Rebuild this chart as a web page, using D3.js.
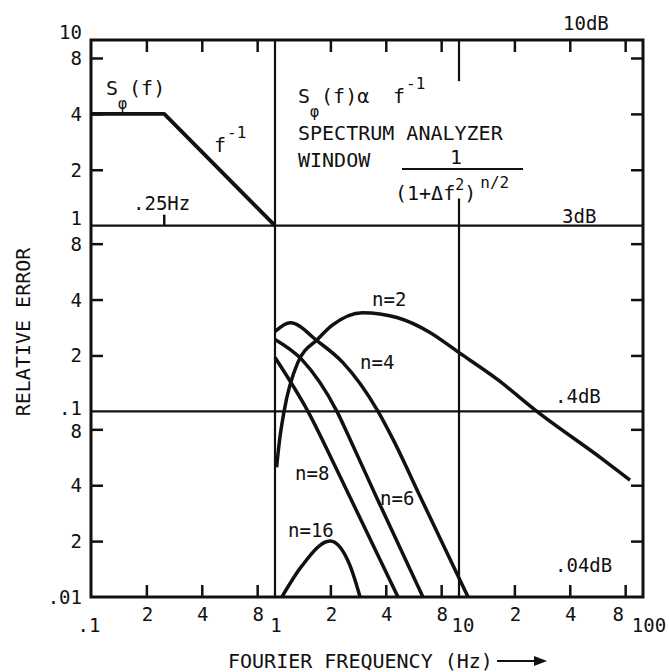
<!DOCTYPE html>
<html lang="en">
<head>
    <meta charset="UTF-8">
    <title>Relative Error vs Fourier Frequency</title>
    <style>
        body {
            margin: 0;
            background-color: #ffffff;
        }
        svg {
            display: block;
        }
        text {
            font-family: "DejaVu Sans Mono", "Liberation Mono", monospace;
            fill: #111;
        }
        .tick-label, .note {
            font-size: 19px;
        }
        .axis-title, .big {
            font-size: 20px;
        }
        .tick line {
            stroke: #111;
            stroke-width: 2.5;
        }
    </style>
</head>
<body>
    <svg id="chart" width="669" height="672"></svg>

    <script src="https://d3js.org/d3.v7.min.js"></script>
    <script>
        // ---- data ----
        const xMinorTicks = [0.2, 0.4, 0.8, 2, 4, 8, 20, 40, 80];
        const yMinorTicks = [0.02, 0.04, 0.08, 0.2, 0.4, 0.8, 2, 4, 8];

        const xLabelValues = [0.1, 0.2, 0.4, 0.8, 1, 2, 4, 8, 10, 20, 40, 80, 100];
        const xLabelTexts  = [".1", "2", "4", "8", "1", "2", "4", "8", "10", "2", "4", "8", "100"];
        const yLabelValues = [10, 8, 4, 2, 1, 0.8, 0.4, 0.2, 0.1, 0.08, 0.04, 0.02, 0.01];
        const yLabelTexts  = ["10", "8", "4", "2", "1", "8", "4", "2", ".1", "8", "4", "2", ".01"];

        const gridX = [1];            // full height vertical rules
        const gridY = [1, 0.1];       // full width horizontal rules
        const windowLineX = 10;       // vertical rule broken around the formula
        const windowGap = [1.4, 6.0]; // y range left open

        // phase noise spectrum sketch S(f)
        const spectrumF = [0.1, 0.25, 1];
        const spectrumS = [4, 4, 1];

        // relative error curves
        const n2F  = [1.02, 1.06, 1.12, 1.33, 1.71, 2.04, 3.0, 4.6, 6.95, 10, 16.1, 26.5, 60.7, 85];
        const n2E  = [0.05, 0.0706, 0.1, 0.183, 0.245, 0.29, 0.34, 0.32, 0.266, 0.207, 0.149, 0.1, 0.055, 0.0426];
        const n4F  = [1.0, 1.21, 1.71, 2.34, 3.63, 4.38, 6.14, 11.2];
        const n4E  = [0.269, 0.30, 0.238, 0.183, 0.1, 0.0706, 0.0349, 0.01];
        const n6F  = [1.0, 1.40, 2.17, 2.56, 3.54, 6.37];
        const n6E  = [0.244, 0.19, 0.1, 0.0706, 0.0349, 0.01];
        const n8F  = [1.0, 1.51, 2.20, 4.66];
        const n8E  = [0.195, 0.1, 0.047, 0.01];
        const n16F = [1.09, 1.40, 1.99, 2.56, 2.90];
        const n16E = [0.01, 0.0147, 0.02, 0.0147, 0.01];

        const curveLabels = ["n=2", "n=4", "n=6", "n=8", "n=16"];

        // ---- layout ----
        const margin = { top: 40, right: 26, bottom: 75, left: 91 },
              width = 669 - margin.left - margin.right,
              height = 672 - margin.top - margin.bottom;

        const root = d3.select("#chart");
        const svg = root.append("g")
            .attr("transform", `translate(${margin.left},${margin.top})`);

        const x = d3.scaleLog().domain([0.1, 100]).range([0, width]);
        const y = d3.scaleLog().domain([0.01, 10]).range([height, 0]);

        // inward ticks on all four sides
        function ticks(axis, transform) {
            svg.append("g")
                .attr("transform", transform)
                .call(axis.tickFormat("").tickSizeOuter(0))
                .call(g => g.select(".domain").remove());
        }
        ticks(d3.axisTop(x).tickValues(xMinorTicks).tickSize(-12), "translate(0,0)");
        ticks(d3.axisBottom(x).tickValues(xMinorTicks).tickSize(-12), `translate(0,${height})`);
        ticks(d3.axisLeft(y).tickValues(yMinorTicks).tickSize(-12), "translate(0,0)");
        ticks(d3.axisRight(y).tickValues(yMinorTicks).tickSize(-12), `translate(${width},0)`);

        // frame
        svg.append("rect")
            .attr("width", width)
            .attr("height", height)
            .attr("fill", "none")
            .attr("stroke", "#111")
            .attr("stroke-width", 3);

        // rules
        svg.selectAll(".gx").data(gridX).enter().append("line")
            .attr("x1", d => x(d)).attr("x2", d => x(d))
            .attr("y1", 0).attr("y2", height)
            .attr("stroke", "#111").attr("stroke-width", 2.2);
        svg.selectAll(".gy").data(gridY).enter().append("line")
            .attr("x1", 0).attr("x2", width)
            .attr("y1", d => y(d)).attr("y2", d => y(d))
            .attr("stroke", "#111").attr("stroke-width", 2.2);
        [[10, windowGap[1]], [windowGap[0], 0.01]].forEach(seg => {
            svg.append("line")
                .attr("x1", x(windowLineX)).attr("x2", x(windowLineX))
                .attr("y1", y(seg[0])).attr("y2", y(seg[1]))
                .attr("stroke", "#111").attr("stroke-width", 2.2);
        });

        // .25Hz corner mark
        svg.append("line")
            .attr("x1", x(spectrumF[1])).attr("x2", x(spectrumF[1]))
            .attr("y1", y(1)).attr("y2", y(1) - 11)
            .attr("stroke", "#111").attr("stroke-width", 2.5);

        // curves
        const smooth = d3.line()
            .x(d => x(d[0]))
            .y(d => y(d[1]))
            .curve(d3.curveMonotoneX);
        const straight = d3.line()
            .x(d => x(d[0]))
            .y(d => y(d[1]));

        svg.append("clipPath").attr("id", "plot-clip")
            .append("rect").attr("width", width).attr("height", height);

        const series = [
            [spectrumF, spectrumS, 3.8, straight],
            [n2F, n2E, 3.5, smooth],
            [n4F, n4E, 3.5, smooth],
            [n6F, n6E, 3.5, smooth],
            [n8F, n8E, 3.5, smooth],
            [n16F, n16E, 3.5, smooth]
        ];
        series.forEach(s => {
            svg.append("path")
                .datum(d3.zip(s[0], s[1]))
                .attr("clip-path", "url(#plot-clip)")
                .attr("fill", "none")
                .attr("stroke", "#111")
                .attr("stroke-width", s[2])
                .attr("stroke-linejoin", "round")
                .attr("d", s[3]);
        });

        // tick labels
        svg.selectAll(".ylab").data(yLabelValues).enter().append("text")
            .attr("class", "tick-label")
            .attr("x", -9)
            .attr("y", d => (d === 10 || d === 1) ? y(d) - 1 : d === 0.1 ? y(d) + 4 : d === 0.08 ? y(d) + 9 : y(d) + 7)
            .attr("text-anchor", "end")
            .text((d, i) => yLabelTexts[i]);

        const isDecade = d => Math.abs(Math.log10(d) - Math.round(Math.log10(d))) < 1e-9;
        svg.selectAll(".xlab").data(xLabelValues).enter().append("text")
            .attr("class", "tick-label")
            .attr("x", d => x(d) + (d === 10 ? 4 : d === 100 ? 6 : d === 80 ? -7 : d === 0.1 ? -2 : 1))
            .attr("y", d => isDecade(d) ? height + 35 : height + 24)
            .attr("text-anchor", "middle")
            .text((d, i) => xLabelTexts[i]);

        // axis titles
        root.append("text")
            .attr("class", "axis-title")
            .attr("transform", "translate(30,332) rotate(-90)")
            .attr("text-anchor", "middle")
            .text("RELATIVE ERROR");

        root.append("text")
            .attr("class", "axis-title")
            .attr("x", 228)
            .attr("y", 668)
            .text("FOURIER FREQUENCY (Hz)");
        root.append("line")
            .attr("x1", 497).attr("x2", 536)
            .attr("y1", 661).attr("y2", 661)
            .attr("stroke", "#111").attr("stroke-width", 2);
        root.append("path")
            .attr("d", "M534,656 L547,661 L534,666 Z")
            .attr("fill", "#111");

        // dB marks
        const dbLabels = [["10dB", 563, 30], ["3dB", 562, 223], [".4dB", 555, 403], [".04dB", 555, 572]];
        dbLabels.forEach(d => {
            root.append("text").attr("class", "note").attr("x", d[1]).attr("y", d[2]).text(d[0]);
        });

        // curve labels
        const curveLabelPos = [[372, 306], [360, 369], [380, 505], [295, 480], [288, 537]];
        curveLabels.forEach((t, i) => {
            root.append("text").attr("class", "note")
                .attr("x", curveLabelPos[i][0]).attr("y", curveLabelPos[i][1]).text(t);
        });

        // S_phi(f) with subscript
        function sPhi(x0, y0) {
            const t = root.append("text").attr("class", "big").attr("x", x0).attr("y", y0);
            t.append("tspan").text("S");
            t.append("tspan").attr("dy", 14).style("font-size", "15px").text("\u03c6");
            t.append("tspan").attr("dy", -14).attr("dx", 2).text("(f)");
            return t;
        }
        function fInv(x0, y0) {
            const t = root.append("text").attr("class", "big").attr("x", x0).attr("y", y0);
            t.append("tspan").text("f");
            t.append("tspan").attr("dy", -14).attr("dx", 1).style("font-size", "16px").text("-1");
        }

        sPhi(106, 95);
        fInv(214, 152);
        root.append("text").attr("class", "note").attr("x", 133).attr("y", 210).text(".25Hz");

        sPhi(298, 103).append("tspan").text("\u03b1");
        fInv(393, 103);
        root.append("text").attr("class", "big").attr("x", 298).attr("y", 140).text("SPECTRUM ANALYZER");
        root.append("text").attr("class", "big").attr("x", 298).attr("y", 167).text("WINDOW");

        // window formula 1 / (1+Δf²)^(n/2)
        root.append("text").attr("class", "big").attr("x", 456).attr("y", 164)
            .attr("text-anchor", "middle").text("1");
        root.append("line")
            .attr("x1", 402).attr("x2", 523)
            .attr("y1", 169).attr("y2", 169)
            .attr("stroke", "#111").attr("stroke-width", 1.8);
        const den = root.append("text").attr("class", "big").attr("x", 395).attr("y", 200);
        den.append("tspan").text("(1+\u0394f");
        den.append("tspan").attr("dy", -10).style("font-size", "15px").text("2");
        den.append("tspan").attr("dy", 10).text(")");
        den.append("tspan").attr("dy", -12).attr("dx", 4).style("font-size", "16px").text("n/2");
    </script>
</body>
</html>
